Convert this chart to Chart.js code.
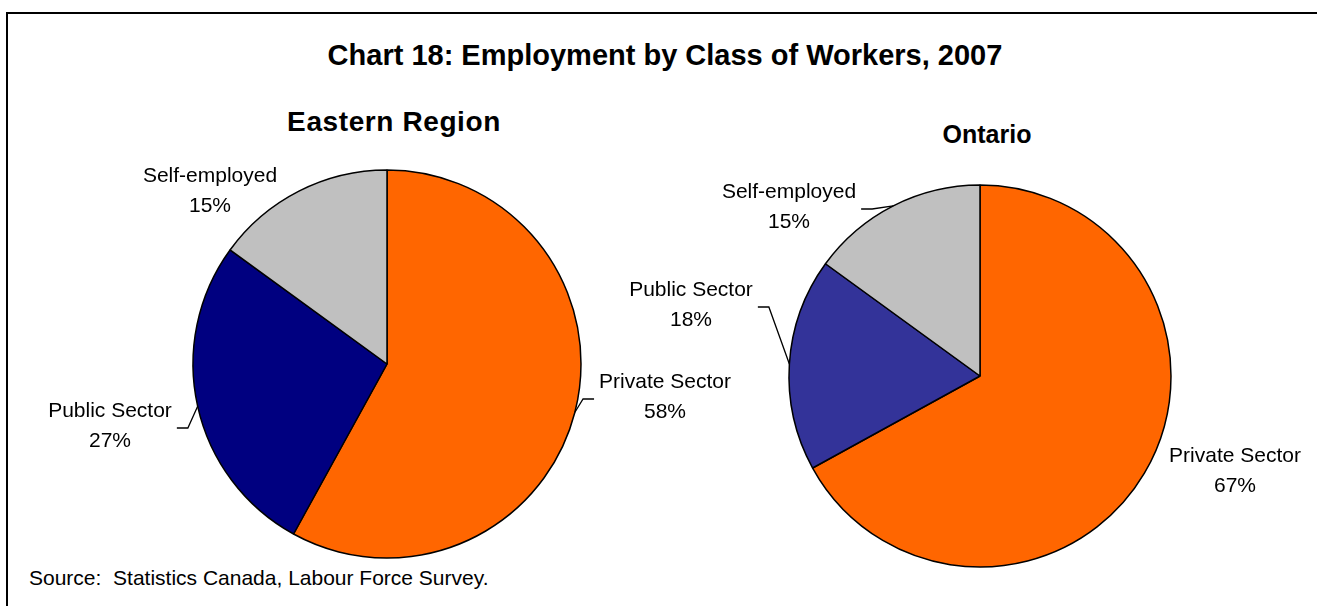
<!DOCTYPE html>
<html>
<head>
<meta charset="utf-8">
<script src="https://cdn.jsdelivr.net/npm/chart.js@4/dist/chart.umd.min.js"></script>
<style>
  body { margin: 0; background: #fff; width: 1317px; height: 606px; overflow: hidden; position: relative; font-family: "Liberation Sans", Arial, sans-serif; }
  canvas { position: absolute; left: 0; top: 0; }
  .frame { position: absolute; left: 6px; top: 12px; width: 1320px; height: 600px; border-top: 2px solid #000; border-left: 2px solid #000; }
  .txt { position: absolute; line-height: 1; white-space: nowrap; color: #000; }
</style>
</head>
<body>
<div class="frame"></div>
<div class="txt" style="left:665px; top:41px; transform:translateX(-50%); font-size:29px; font-weight:bold;">Chart 18: Employment by Class of Workers, 2007</div>
<div class="txt" style="left:394px; top:108px; transform:translateX(-50%); font-size:28px; font-weight:bold; letter-spacing:0.6px;">Eastern Region</div>
<div class="txt" style="left:987px; top:122px; transform:translateX(-50%); font-size:25px; font-weight:bold;">Ontario</div>
<div class="txt" style="left:29px; top:567px; font-size:21px;">Source:&nbsp; Statistics Canada, Labour Force Survey.</div>
<canvas id="easternChart" width="1317" height="606"></canvas>
<canvas id="ontarioChart" width="1317" height="606"></canvas>
<script>
// ===== data =====
const categories = ["Private Sector", "Public Sector", "Self-employed"];
const easternShares = [58, 27, 15];
const ontarioShares = [67, 18, 15];

const easternColors = ["#FF6600", "#000080", "#C0C0C0"];
const ontarioColors = ["#FF6600", "#333399", "#C0C0C0"];

// labels: two lines (name + percent), optional leader line back to the slice
const pieLabels = {
  id: "pieLabels",
  afterDatasetsDraw(chart, args, opts) {
    const ctx = chart.ctx;
    const meta = chart.getDatasetMeta(0);
    const values = chart.data.datasets[0].data;
    ctx.save();
    ctx.font = "21px 'Liberation Sans', Arial, sans-serif";
    ctx.fillStyle = "#000";
    ctx.strokeStyle = "#000";
    ctx.lineWidth = 1.3;
    ctx.textAlign = "center";
    ctx.textBaseline = "middle";
    meta.data.forEach((arc, i) => {
      const lx = arc.x + opts.offsets[i][0];
      const ly = arc.y + opts.offsets[i][1];
      const lines = [chart.data.labels[i], values[i] + "%"];
      ctx.fillText(lines[0], lx, ly - 15);
      ctx.fillText(lines[1], lx, ly + 15);
      if (!opts.leaders[i]) return;
      const mid = (arc.startAngle + arc.endAngle) / 2;
      const ax = arc.x + Math.cos(mid) * arc.outerRadius;
      const ay = arc.y + Math.sin(mid) * arc.outerRadius;
      const half = Math.max(...lines.map((t) => ctx.measureText(t).width)) / 2;
      const side = ax > lx ? 1 : -1;
      const x0 = lx + side * (half + 5);
      const x1 = x0 + side * 11;
      ctx.beginPath();
      ctx.moveTo(x0, ly + 2);
      ctx.lineTo(x1, ly + 2);
      ctx.lineTo(ax, ay);
      ctx.stroke();
    });
    ctx.restore();
  },
};

// padding so the chart area is centred on (cx, cy)
function padAround(cx, cy, half) {
  return { left: cx - half, right: 1317 - cx - half, top: cy - half, bottom: 606 - cy - half };
}

function makePie(id, values, colors, center, radius, labelOpts) {
  return new Chart(id, {
    type: "pie",
    data: {
      labels: categories,
      datasets: [
        {
          data: values,
          backgroundColor: colors,
          borderColor: "#000",
          borderWidth: 1.5,
        },
      ],
    },
    options: {
      responsive: false,
      animation: false,
      devicePixelRatio: 1,
      radius: radius,
      layout: { padding: padAround(center[0], center[1], 200) },
      plugins: {
        legend: { display: false },
        tooltip: { enabled: false },
        pieLabels: labelOpts,
      },
    },
    plugins: [pieLabels],
  });
}

makePie("easternChart", easternShares, easternColors, [387, 364], 194, {
  offsets: [[278, 33], [-277, 62], [-177, -173]],
  leaders: [true, true, false],
});

makePie("ontarioChart", ontarioShares, ontarioColors, [980, 376], 191, {
  offsets: [[255, 95], [-289, -71], [-191, -169]],
  leaders: [false, true, true],
});
</script>
</body>
</html>
